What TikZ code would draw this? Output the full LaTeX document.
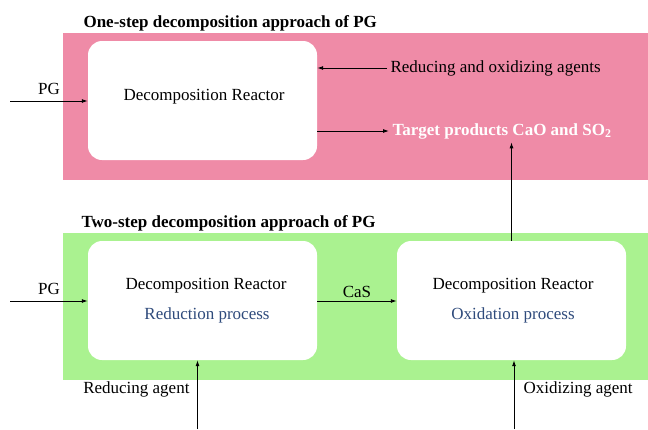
\documentclass[tikz,border=0pt]{standalone}
\usepackage{fontspec}
\setmainfont{Liberation Serif}
\usepackage{tikz}
\usetikzlibrary{arrows.meta,positioning}
\definecolor{onestep}{HTML}{EF8BA7}
\definecolor{twostep}{HTML}{AAF290}
\definecolor{procblue}{HTML}{2F4B7C}

\begin{document}
\begin{tikzpicture}[x=1pt,y=-1pt,>={Latex[length=6pt,width=4pt]},
		font=\fontsize{17}{20}\selectfont,
		reactor/.style={rectangle,rounded corners=14pt,fill=white,minimum width=229pt,minimum height=119pt},
		title/.style={anchor=west,font=\fontsize{17}{20}\selectfont\bfseries},
		process/.style={text=procblue},
		flow/.style={->,line width=0.9pt}]
		\useasboundingbox (0,0) rectangle (648,429);
		% one-step route
		\fill[onestep] (63,33) rectangle (648,180);
		\node[title] (t1) at (80,23) {One-step decomposition approach of PG};
		\node[reactor] (r1) at (202.5,100.5) {};
		\node (r1text) at (204,97) {Decomposition Reactor};
		\node (pg1) at (49,89) {PG};
		\coordinate (pgin1) at (10,101);
		\node[anchor=west] (agents) at (387,68) {Reducing and oxidizing agents};
		\node[anchor=west,text=white,font=\fontsize{17}{20}\selectfont\bfseries] (target) at (389,131) {Target products CaO and SO\textsubscript{2}};
		% two-step route
		\fill[twostep] (63,233) rectangle (648,380);
		\node[title] (t2) at (78,223) {Two-step decomposition approach of PG};
		\node[reactor] (r2a) at (202.5,300.5) {};
		\node[reactor] (r2b) at (511.5,300.5) {};
		\node (r2atext) at (206,286) {Decomposition Reactor};
		\node[process] (red) at (207,315) {Reduction process};
		\node (r2btext) at (513,286) {Decomposition Reactor};
		\node[process] (oxi) at (513,315) {Oxidation process};
		\node (pg2) at (49,289) {PG};
		\coordinate (pgin2) at (10,301);
		\coordinate (redin) at (197.5,429);
		\coordinate (oxiin) at (514,429);
		\node[anchor=east] (redlab) at (193,389) {Reducing agent};
		\node[anchor=west] (oxilab) at (520,389) {Oxidizing agent};
		\path[flow]
			(pgin1) edge (pgin1 -| r1.west)
			(agents.west) edge (agents.west -| r1.east)
			(target.west -| r1.east) edge (target.west)
			(r2b.north) edge (r2b.north |- target.south)
			(pgin2) edge (pgin2 -| r2a.west)
			(pgin2 -| r2a.east) edge node[above] (cas) {CaS} (pgin2 -| r2b.west)
			(redin) edge (redin |- r2a.south)
			(oxiin) edge (oxiin |- r2b.south);
	\end{tikzpicture}
\end{document}
